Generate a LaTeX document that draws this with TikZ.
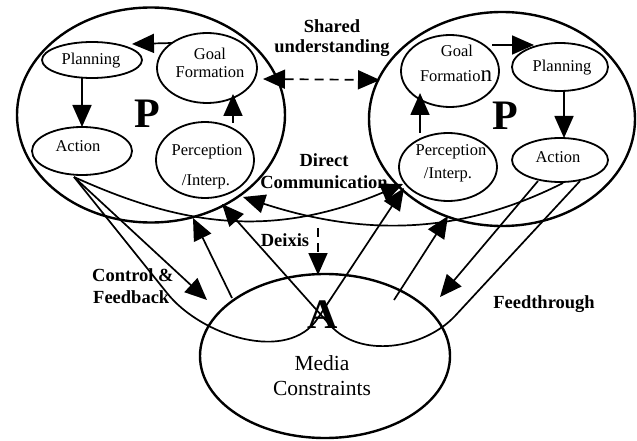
\documentclass[tikz,border=0pt]{standalone}
\usepackage{fontspec}
\setmainfont{Liberation Serif}
\usetikzlibrary{arrows.meta,shapes.geometric}

\begin{document}
\begin{tikzpicture}[x=1pt,y=-1pt,
  part/.style={ellipse,draw,line width=1.8pt,inner sep=0pt},
  person/.style={ellipse,draw,line width=2.4pt,inner sep=0pt},
  tip/.style={-{Triangle[length=22pt,width=19pt]}},
  conn/.style={line width=1.7pt,tip},
  dconn/.style={line width=1.7pt,dash pattern=on 9pt off 6pt},
  txt/.style={font=\fontsize{16.5}{18}\selectfont,anchor=base,inner sep=0pt},
  lbl/.style={font=\bfseries\fontsize{18.5}{20}\selectfont,anchor=base,inner sep=0pt},
  bigletter/.style={font=\bfseries\fontsize{42}{42}\selectfont,anchor=base,inner sep=0pt}]
\useasboundingbox (0,0) rectangle (637,441);

% ---- participants ----
\node[person,minimum width=268pt,minimum height=215pt] (bigL) at (151,115) {};
\node[person,minimum width=266pt,minimum height=214pt] (bigR) at (502,119) {};
% ---- media ----
\node[person,minimum width=250pt,minimum height=164pt] (media) at (325,356) {};

% ---- left participant's cycle ----
\node[part,minimum width=100pt,minimum height=36pt] (lplan) at (92,60) {};
\node[part,minimum width=100pt,minimum height=70pt] (lgoal) at (207,68) {};
\node[part,minimum width=100pt,minimum height=48pt] (lact) at (82,151) {};
\node[part,minimum width=98pt,minimum height=76pt] (lperc) at (205,160) {};
\node[txt] (tlplan) at (91,65) {Planning};
\node[txt] (tlgoal1) at (210,60) {Goal};
\node[txt] (tlgoal2) at (210,78) {Formation};
\node[txt] (tlact) at (78,152) {Action};
\node[txt] (tlperc1) at (207,155) {Perception};
\node[txt] (tlperc2) at (206,185) {/Interp.};
\node[bigletter] (lP) at (147,128) {P};

% ---- right participant's cycle ----
\node[part,minimum width=98pt,minimum height=72pt] (rgoal) at (450,71) {};
\node[part,minimum width=96pt,minimum height=48pt] (rplan) at (560,67) {};
\node[part,minimum width=96pt,minimum height=44pt] (ract) at (560,160) {};
\node[part,minimum width=98pt,minimum height=68pt] (rperc) at (448,167) {};
\node[txt] (trgoal1) at (457,57) {Goal};
\node[txt] (trgoal2) at (456,82) {Formatio{\fontsize{23}{23}\selectfont n}};
\node[txt] (trplan) at (562,72) {Planning};
\node[txt] (tract) at (558,162) {Action};
\node[txt] (trperc1) at (451,155) {Perception};
\node[txt] (trperc2) at (448,178) {/Interp.};
\node[bigletter] (rP) at (505,130) {P};

% ---- media labels ----
\node[bigletter] (mA) at (323,328) {A};
\node[font=\fontsize{21.5}{24}\selectfont,anchor=base,inner sep=0pt] (tm1) at (322,370) {Media};
\node[font=\fontsize{21.5}{24}\selectfont,anchor=base,inner sep=0pt] (tm2) at (322,395) {Constraints};

% ---- connector labels ----
\node[lbl] (ls1) at (332,33) {Shared};
\node[lbl] (ls2) at (332,53) {understanding};
\node[lbl] (ld1) at (324,166) {Direct};
\node[lbl] (ld2) at (324,188) {Communication};
\node[lbl] (ldx) at (285,246) {Deixis};
\node[lbl,anchor=base west] (lc1) at (92,281) {Control \&};
\node[lbl,anchor=base west] (lc2) at (93,303) {Feedback};
\node[lbl] (lft) at (544,308) {Feedthrough};

% ---- end points of connectors ----
\coordinate (lgpS) at (172,43);  \coordinate (lgpE) at (132,44);
\coordinate (lpaS) at (82,78);   \coordinate (lpaE) at (82,127);
\coordinate (lpgS) at (233,123); \coordinate (lpgE) at (233,94);
\coordinate (rgpS) at (492,45);  \coordinate (rgpE) at (534,45);
\coordinate (rpaS) at (564,91);  \coordinate (rpaE) at (564,138);
\coordinate (rpgS) at (420,133); \coordinate (rpgE) at (420,93);

\coordinate (shL) at (263,79);   \coordinate (shR) at (380,80);
\coordinate (dxS) at (318,228);  \coordinate (dxE) at (318,275);

\coordinate (lactO) at (74,177);
\coordinate (ractC) at (538,181);
\coordinate (ractD) at (563,183);
\coordinate (ractF) at (580,181);

\coordinate (lctrlE) at (207,300);
\coordinate (rctrlE) at (440,297);
\coordinate (lfbS) at (232,298); \coordinate (lfbE) at (193,218);
\coordinate (rfbS) at (394,300); \coordinate (rfbE) at (448,216);
\coordinate (rdcE) at (403,184);
\coordinate (ldcE) at (243,197);
\coordinate (rftE) at (404,188);
\coordinate (lftE) at (222,204);

% ---- arrows inside the participants ----
\draw[conn] (lgpS) -- (lgpE);
\draw[conn] (lpaS) -- (lpaE);
\draw[conn] (lpgS) -- (lpgE);
\draw[conn] (rgpS) -- (rgpE);
\draw[conn] (rpaS) -- (rpaE);
\draw[conn] (rpgS) -- (rpgE);

% ---- shared understanding and deixis ----
\draw[dconn,{Triangle[length=22pt,width=19pt]}-{Triangle[length=22pt,width=19pt]}] (shL) -- (shR);
\draw[dconn,tip] (dxS) -- (dxE);

% ---- control and feedback ----
\draw[conn] (lactO) -- (lctrlE);
\draw[conn] (ractC) -- (rctrlE);
\draw[conn] (lfbS) -- (lfbE);
\draw[conn] (rfbS) -- (rfbE);

% ---- direct communication ----
\draw[conn] (lactO) .. controls (180,225) and (270,240) .. (rdcE);
\draw[conn] (ractD) .. controls (470,230) and (375,240) .. (ldcE);

% ---- feedthrough via the media ----
\draw[conn] (lactO) -- (167,293) .. controls (201,336) and (288,364) .. (318,318) -- (rftE);
\draw[conn] (ractF) -- (455,316) .. controls (424,349) and (360,359) .. (330,325) -- (lftE);
\end{tikzpicture}
\end{document}
